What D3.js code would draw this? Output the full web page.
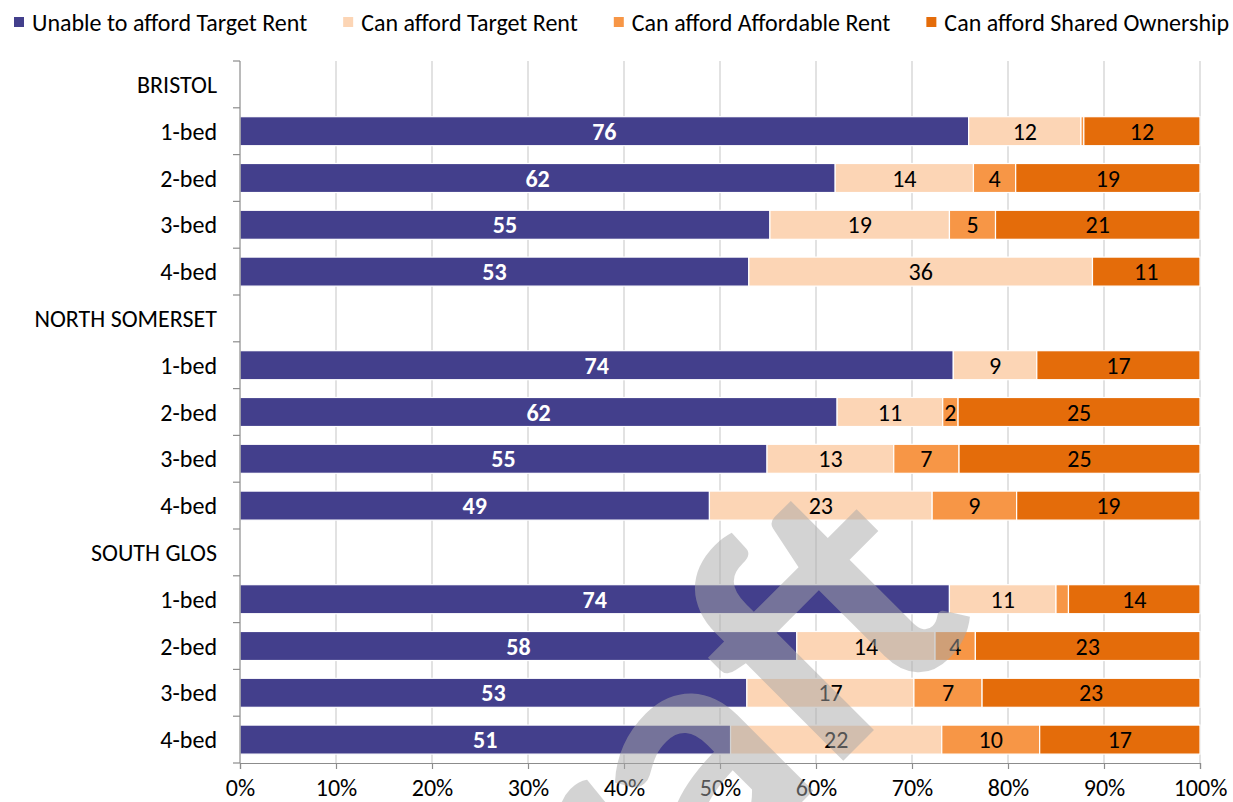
<!DOCTYPE html>
<html>
<head>
<meta charset="utf-8">
<script src="https://cdn.jsdelivr.net/npm/d3@7"></script>
<style>
  html, body { margin: 0; padding: 0; background: #fff; }
  svg { display: block; }
  text { font-family: Carlito, Lato, sans-serif; }
</style>
</head>
<body>
<svg id="chart" width="1233" height="802"></svg>
<script>
// ---------------- DATA ----------------
const groups = ["BRISTOL", "NORTH SOMERSET", "SOUTH GLOS"];
const sizes = ["1-bed", "2-bed", "3-bed", "4-bed"];
const seriesNames = ["Unable to afford Target Rent", "Can afford Target Rent", "Can afford Affordable Rent", "Can afford Shared Ownership"];
// values in % per row (BRISTOL 1-4, NORTH SOMERSET 1-4, SOUTH GLOS 1-4)
const unableTarget   = [75.9, 62.0, 55.2, 53.0, 74.3, 62.2, 54.9, 48.9, 73.9, 58.0, 52.8, 51.1];
const affordTarget   = [11.7, 14.4, 18.7, 35.8,  8.7, 11.0, 13.2, 23.2, 11.1, 14.4, 17.4, 22.0];
const affordAffRent  = [ 0.3,  4.4,  4.8,  0.0,  0.0,  1.6,  6.8,  8.8,  1.3,  4.2,  7.1, 10.2];
const affordShared   = [12.1, 19.2, 21.3, 11.2, 17.0, 25.2, 25.1, 19.1, 13.7, 23.4, 22.7, 16.7];
const xTicks = [0, 10, 20, 30, 40, 50, 60, 70, 80, 90, 100];
const watermarkText = "Draft";

// ---------------- STYLE ----------------
const colors = ["#433F8C", "#FCD5B5", "#F79646", "#E46C0A"];
const fontSize = 24;
const plot = { left: 240, right: 1200, top: 61, bottom: 763 };

const svg = d3.select("#chart");

// rows (group headers + size rows)
const rows = [];
groups.forEach((g, gi) => {
  rows.push({ key: g, label: g, header: true });
  sizes.forEach((s, si) => rows.push({ key: g + "|" + s, label: s, header: false, idx: gi * sizes.length + si }));
});

const table = rows.filter(r => !r.header).map(r => ({
  key: r.key,
  s0: unableTarget[r.idx], s1: affordTarget[r.idx], s2: affordAffRent[r.idx], s3: affordShared[r.idx]
}));

const x = d3.scaleLinear().domain([0, 100]).range([plot.left, plot.right]);
const y = d3.scaleBand().domain(rows.map(r => r.key)).range([plot.top, plot.bottom])
  .paddingInner(0.38).paddingOuter(0.19);

// gridlines
svg.append("g").selectAll("line").data(xTicks.slice(1)).join("line")
  .attr("x1", d => x(d)).attr("x2", d => x(d))
  .attr("y1", plot.top).attr("y2", plot.bottom)
  .attr("stroke", "#d9d9d9").attr("stroke-width", 1.5);

// stacked bars
const stack = d3.stack().keys(["s0", "s1", "s2", "s3"]);
const layers = stack(table);

const barG = svg.append("g");
layers.forEach((layer, li) => {
  barG.append("g").selectAll("rect").data(layer).join("rect")
    .attr("x", d => x(d[0]))
    .attr("width", d => Math.max(0, x(d[1]) - x(d[0])))
    .attr("y", d => y(d.data.key))
    .attr("height", y.bandwidth())
    .attr("fill", colors[li])
    .attr("stroke", "#fff").attr("stroke-width", 1.2);
});

// labels
layers.forEach((layer, li) => {
  barG.append("g").selectAll("text").data(layer.filter(d => (d[1] - d[0]) >= 1.5)).join("text")
    .attr("x", d => (x(d[0]) + x(d[1])) / 2)
    .attr("y", d => y(d.data.key) + y.bandwidth() / 2)
    .attr("dy", "0.36em")
    .attr("text-anchor", "middle")
    .attr("font-size", fontSize)
    .attr("font-weight", li === 0 ? "bold" : "normal")
    .attr("fill", li === 0 ? "#ffffff" : "#000000")
    .text(d => Math.round(d[1] - d[0]));
});

// left axis
const axisColor = "#8c8c8c";
svg.append("line").attr("x1", plot.left).attr("x2", plot.left)
  .attr("y1", plot.top).attr("y2", plot.bottom).attr("stroke", axisColor).attr("stroke-width", 1.2);
const step = y.step();
svg.append("g").selectAll("line").data(d3.range(rows.length + 1)).join("line")
  .attr("x1", plot.left - 7).attr("x2", plot.left)
  .attr("y1", i => plot.top + i * step).attr("y2", i => plot.top + i * step)
  .attr("stroke", axisColor).attr("stroke-width", 1.2);
svg.append("g").selectAll("text").data(rows).join("text")
  .attr("x", 217)
  .attr("y", r => y(r.key) + y.bandwidth() / 2)
  .attr("dy", "0.36em")
  .attr("text-anchor", "end")
  .attr("font-size", fontSize)
  .attr("fill", "#000")
  .text(r => r.label);

// bottom axis
const xAxis = d3.axisBottom(x).tickValues(xTicks).tickFormat(d => d + "%").tickSize(6).tickPadding(10);
const gx = svg.append("g").attr("transform", `translate(0,${plot.bottom})`).call(xAxis);
gx.select(".domain").attr("stroke", axisColor).attr("stroke-width", 1.2);
gx.selectAll(".tick line").attr("stroke", axisColor).attr("stroke-width", 1.2);
gx.selectAll(".tick text").attr("font-size", fontSize).attr("fill", "#000")
  .attr("font-family", "Carlito, Lato, sans-serif");

// legend
const legend = svg.append("g");
let lx = 14;
seriesNames.forEach((name, i) => {
  legend.append("rect").attr("x", lx).attr("y", 17).attr("width", 10).attr("height", 10).attr("fill", colors[i]);
  const t = legend.append("text").attr("x", lx + 18).attr("y", 22).attr("dy", "0.36em")
    .attr("font-size", fontSize).attr("fill", "#000").text(name);
  lx += 18 + t.node().getComputedTextLength() + 36;
});

// watermark
svg.append("text")
  .attr("transform", "translate(982,622) rotate(-45)")
  .attr("text-anchor", "end")
  .attr("font-size", 350)
  .attr("font-weight", 600)
  .attr("fill", "#a8a8a8")
  .attr("fill-opacity", 0.5)
  .text(watermarkText);
</script>
</body>
</html>
